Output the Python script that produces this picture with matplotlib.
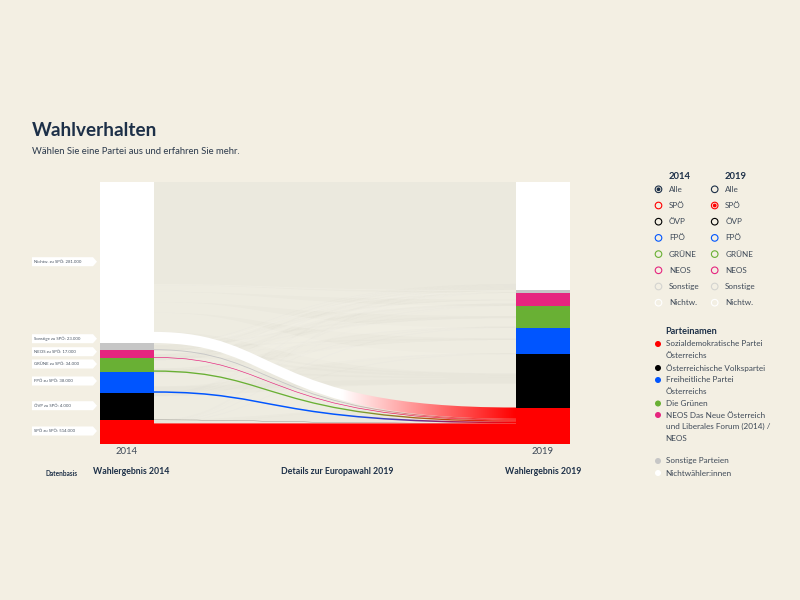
import numpy as np
import matplotlib
matplotlib.use("Agg")
import matplotlib.pyplot as plt
from matplotlib.colors import to_rgb
from matplotlib.patches import PathPatch, Polygon, Circle
from matplotlib.path import Path

plt.rcParams['font.family'] = ['Lato', 'DejaVu Sans']

# parties, bottom to top of the stacks
parties = ['SPÖ', 'ÖVP', 'FPÖ', 'GRÜNE', 'NEOS', 'Sonstige', 'Nichtw.']
party_colors = ['#ff0000', '#000000', '#0055ff', '#69b034', '#e6267f', '#c6c6c6', '#ffffff']

# voter flows in thousands, rows 2014, columns 2019 (estimated except to SPÖ)
from_spo = [514, 10, 20, 20, 6, 1, 29]
from_ovp = [4, 590, 10, 12, 18, 1, 45]
from_fpo = [38, 120, 330, 2, 5, 5, 25]
from_gruene = [34, 40, 6, 210, 32, 3, 25]
from_neos = [17, 50, 4, 20, 80, 1, 18]
from_sonst = [23, 40, 25, 30, 15, 30, 12]
from_nichtw = [281, 480, 265, 256, 169, 27, 2547]

tag_labels = ['SPÖ zu SPÖ: 514.000', 'ÖVP zu SPÖ: 4.000', 'FPÖ zu SPÖ: 38.000',
              'GRÜNE zu SPÖ: 34.000', 'NEOS zu SPÖ: 17.000', 'Sonstige zu SPÖ: 23.000',
              'Nichtw. zu SPÖ: 281.000']

party_names = ['Sozialdemokratische Partei\nÖsterreichs', 'Österreichische Volkspartei',
               'Freiheitliche Partei\nÖsterreichs', 'Die Grünen',
               'NEOS Das Neue Österreich\nund Liberales Forum (2014) /\nNEOS',
               'Sonstige Parteien', 'Nichtwähler:innen']

BG = '#f3efe3'
FLOW_BG = '#ebe9de'
NAVY = '#1d3048'
TEXT = '#3f4a58'

flows = np.array([from_spo, from_ovp, from_fpo, from_gruene, from_neos, from_sonst, from_nichtw], float)
n = len(parties)
totals_2014 = flows.sum(axis=1)
totals_2019 = flows.sum(axis=0)

fig = plt.figure(figsize=(8, 6), dpi=100, facecolor=BG)

# chart axes: bars at 100-154 and 516-570 px, stack from 444 up to 182 px
ax = fig.add_axes([100 / 800, 1 - 444 / 600, 470 / 800, 262 / 600])
ax.axis('off')
unit = 416.0
bar_w = 54 / unit
ax.set_facecolor('none')


def flow_patch(x0, x1, y0a, y0b, y1a, y1b):
    dx = x1 - x0
    c1, c2 = x0 + 0.35 * dx, x0 + 0.30 * dx
    c3, c4 = x0 + 0.30 * dx, x0 + 0.35 * dx
    verts = [(x0, y0a), (c1, y0a), (c2, y1a), (x1, y1a), (x1, y1b),
             (c3, y1b), (c4, y0b), (x0, y0b), (x0, y0a)]
    codes = [Path.MOVETO, Path.CURVE4, Path.CURVE4, Path.CURVE4, Path.LINETO,
             Path.CURVE4, Path.CURVE4, Path.CURVE4, Path.CLOSEPOLY]
    return Path(verts, codes)


x0, x1 = bar_w / 2, 1 - bar_w / 2
ymax = totals_2014.sum()
ax.fill_between([x0, x1], 0, ymax, color=FLOW_BG, lw=0, zorder=1)

left_base = np.concatenate([[0], np.cumsum(totals_2014)[:-1]])
right_base = np.concatenate([[0], np.cumsum(totals_2019)[:-1]])
left_pos = left_base.copy()
right_pos = right_base.copy()
spans = {}
for i in range(n):
    for j in range(n):
        # sources fill their band bottom up in target order, targets in source order
        spans[i, j] = (left_pos[i], left_pos[i] + flows[i, j], right_pos[j], right_pos[j] + flows[i, j])
        left_pos[i] += flows[i, j]
        right_pos[j] += flows[i, j]

# pale flows behind, light ones from the non voters, darker ones elsewhere
for i in range(n):
    for j in range(1, n):
        a, b, c, d = spans[i, j]
        if i == 6 and j == 6:
            continue
        path = flow_patch(x0, x1, a, b, c, d)
        if i == 6 or i == j:
            ax.add_patch(PathPatch(path, fc='#f4f2e9', ec='none', alpha=0.35, zorder=2))
        else:
            ax.add_patch(PathPatch(path, fc='#d9d7cd', ec='none', alpha=0.14, zorder=2))

# flows into SPÖ with a colour gradient towards red
red = np.array(to_rgb(party_colors[0]))
for i in range(n - 1, -1, -1):
    a, b, c, d = spans[i, 0]
    patch = PathPatch(flow_patch(x0, x1, a, b, c, d), fc='none', ec='none', zorder=4)
    ax.add_patch(patch)
    src = np.array(to_rgb(party_colors[i]))
    t = np.clip((np.linspace(0, 1, 256) - 0.52) / 0.48, 0, 1)[None, :, None]
    grad = src * (1 - t) + red * t
    im = ax.imshow(grad, extent=[x0, x1, 0, ymax], aspect='auto', zorder=4, interpolation='bilinear')
    im.set_clip_path(patch)

ax.bar([0] * n, totals_2014, bar_w, bottom=left_base, color=party_colors, lw=0, zorder=5)
ax.bar([1] * n, totals_2019, bar_w, bottom=right_base, color=party_colors, lw=0, zorder=5)
ax.set_xlim(-27 / unit, 443 / unit)
ax.set_ylim(0, ymax)

# overlay in page pixels for the texts and the legends
ov = fig.add_axes([0, 0, 1, 1], zorder=10)
ov.set_xlim(0, 800)
ov.set_ylim(600, 0)
ov.axis('off')


def txt(x, y, s, size=5.85, color=TEXT, weight='normal', ha='left', **kw):
    ov.text(x, y, s, fontsize=size, color=color, fontweight=weight, ha=ha, va='center', **kw)


txt(32, 130, 'Wahlverhalten', size=13.6, color=NAVY, weight='bold')
txt(32, 151, 'Wählen Sie eine Partei aus und erfahren Sie mehr.', size=6.8, color='#2c3a4c')

# tags beside the 2014 bar
tag_y = [431, 405.7, 381, 364, 351.7, 338.7, 261.7]
for y, label in zip(tag_y, tag_labels):
    ov.add_patch(Polygon([(32, y - 4.5), (93, y - 4.5), (97, y), (93, y + 4.5), (32, y + 4.5)],
                         fc='white', ec='none'))
    txt(34.5, y, label, size=3.1, color='#4a5563')

txt(127, 452, '2014', size=6.8, ha='center')
txt(543, 452, '2019', size=6.8, ha='center')
txt(62, 473, 'Datenbasis', size=4.7, color=NAVY, weight='bold', ha='center')
txt(131, 471, 'Wahlergebnis 2014', size=6.35, color=NAVY, weight='bold', ha='center')
txt(337, 471, 'Details zur Europawahl 2019', size=6.3, color=NAVY, weight='bold', ha='center')
txt(543, 471, 'Wahlergebnis 2019', size=6.35, color=NAVY, weight='bold', ha='center')

# radio buttons
txt(669, 176.5, '2014', size=6.8, color=NAVY, weight='bold')
txt(725, 176.5, '2019', size=6.8, color=NAVY, weight='bold')
radio_labels = ['Alle'] + parties
radio_colors = [NAVY] + party_colors
radio_colors[6] = '#d4d4d0'
for k, (label, col) in enumerate(zip(radio_labels, radio_colors)):
    y = 189.3 + k * 16.2
    for cx, selected in ((658.5, k == 0), (714.7, k == 1)):
        ov.add_patch(Circle((cx, y), 3.3, fc='none', ec=col, lw=0.8))
        if selected:
            ov.add_patch(Circle((cx, y), 1.9, fc=col, ec='none'))
        txt(cx + 10.5, y, label)

# party name legend
txt(665.5, 331, 'Parteinamen', size=6.6, color=NAVY, weight='bold')
name_y = [344, 368, 380, 403.5, 415, 461, 473]
line_h = 11.8
for y, name, col in zip(name_y, party_names, party_colors):
    ov.add_patch(Circle((658, y), 3.0, fc=col, ec='none'))
    for m, line in enumerate(name.split('\n')):
        txt(665.5, y + m * line_h, line)

fig.savefig('out.png', dpi=100, facecolor=BG)
